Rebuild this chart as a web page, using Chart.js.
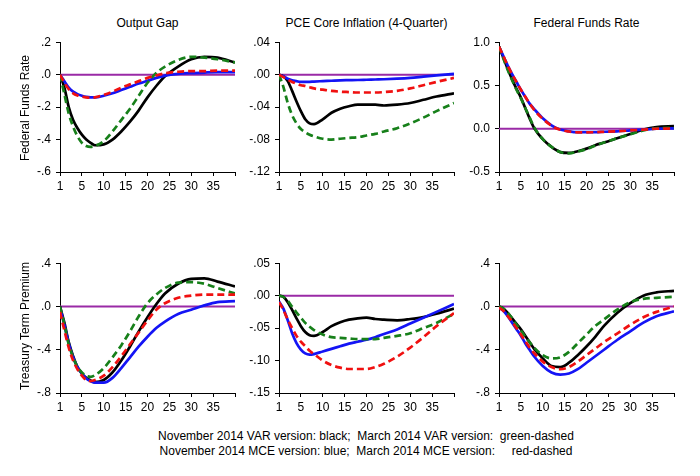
<!DOCTYPE html>
<html>
<head>
<meta charset="utf-8">
<script src="https://cdn.jsdelivr.net/npm/chart.js@4.4.1/dist/chart.umd.min.js"></script>
<style>
  html, body { margin:0; padding:0; background:#fff; }
  body { width:700px; height:476px; position:relative; overflow:hidden; font-family:"Liberation Sans", Arial, sans-serif; color:#000; }
  canvas { position:absolute; }
  .title { position:absolute; font-size:12px; text-align:center; white-space:nowrap; }
  .ylab { position:absolute; font-size:12px; white-space:nowrap; transform:translate(-50%,-50%) rotate(-90deg); }
  .legend { position:absolute; left:0; width:732px; text-align:center; font-size:12px; white-space:pre; }
</style>
</head>
<body>
<script>
// ---------- DATA ----------
const horizon = [0,1,2,3,4,5,6,7,8,10,12,14,16,18,20,22,24,27,30,33,36,40];
const xTickValues = [0,5,10,15,20,25,30,35,40];
const xTickLabels = ['1','5','10','15','20','25','30','35',''];
const zeroX = [0,40];
const zeroY = [0,0];

// Federal Funds Rate shock -> Output Gap
const ffrGapBlack = [0,-0.08,-0.2,-0.28,-0.33,-0.37,-0.40,-0.42,-0.435,-0.43,-0.40,-0.35,-0.29,-0.22,-0.14,-0.07,-0.01,0.05,0.095,0.11,0.105,0.075];
const ffrGapGreen = [0,-0.12,-0.24,-0.32,-0.38,-0.42,-0.44,-0.445,-0.44,-0.41,-0.35,-0.28,-0.21,-0.13,-0.05,0.01,0.05,0.09,0.11,0.105,0.095,0.075];
const ffrGapBlue  = [0,-0.04,-0.08,-0.105,-0.12,-0.13,-0.137,-0.14,-0.14,-0.13,-0.115,-0.095,-0.075,-0.055,-0.038,-0.02,-0.006,0.005,0.01,0.013,0.015,0.015];
const ffrGapRed   = [0,-0.05,-0.09,-0.115,-0.128,-0.135,-0.14,-0.142,-0.14,-0.125,-0.105,-0.08,-0.06,-0.04,-0.02,-0.005,0.008,0.018,0.022,0.022,0.025,0.025];

// Federal Funds Rate shock -> PCE Core Inflation
const ffrPceBlack = [0,-0.002,-0.008,-0.02,-0.033,-0.045,-0.055,-0.06,-0.061,-0.055,-0.047,-0.042,-0.039,-0.037,-0.037,-0.037,-0.038,-0.037,-0.035,-0.031,-0.027,-0.023];
const ffrPceGreen = [0,-0.015,-0.035,-0.05,-0.06,-0.067,-0.071,-0.074,-0.076,-0.079,-0.08,-0.079,-0.078,-0.077,-0.075,-0.073,-0.07,-0.066,-0.06,-0.053,-0.045,-0.035];
const ffrPceBlue  = [0,-0.002,-0.005,-0.007,-0.008,-0.009,-0.009,-0.0088,-0.0085,-0.008,-0.0075,-0.007,-0.0068,-0.0066,-0.0063,-0.006,-0.0057,-0.005,-0.004,-0.0025,-0.001,0.001];
const ffrPceRed   = [0,-0.003,-0.006,-0.009,-0.011,-0.013,-0.014,-0.0155,-0.017,-0.0185,-0.02,-0.021,-0.0215,-0.022,-0.022,-0.022,-0.0215,-0.02,-0.017,-0.013,-0.009,-0.004];

// Federal Funds Rate shock -> Federal Funds Rate
const ffrFfrBlack = [0.95,0.82,0.69,0.57,0.46,0.36,0.24,0.12,0.01,-0.12,-0.21,-0.27,-0.28,-0.26,-0.23,-0.19,-0.16,-0.11,-0.06,-0.01,0.02,0.03];
const ffrFfrGreen = [0.95,0.81,0.68,0.56,0.45,0.35,0.24,0.13,0.02,-0.12,-0.21,-0.27,-0.285,-0.265,-0.235,-0.195,-0.16,-0.11,-0.065,-0.02,0.005,0.01];
const ffrFfrBlue  = [0.95,0.84,0.73,0.63,0.54,0.45,0.37,0.29,0.23,0.12,0.04,-0.01,-0.03,-0.04,-0.04,-0.04,-0.035,-0.03,-0.02,-0.01,0,0.005];
const ffrFfrRed   = [0.95,0.84,0.73,0.63,0.54,0.45,0.37,0.29,0.22,0.115,0.035,-0.012,-0.032,-0.042,-0.042,-0.04,-0.036,-0.03,-0.02,-0.01,0,0.003];

// Treasury Term Premium shock -> Output Gap
const ttpGapBlack = [0,-0.15,-0.33,-0.46,-0.56,-0.62,-0.66,-0.685,-0.70,-0.68,-0.61,-0.5,-0.37,-0.23,-0.1,0.02,0.12,0.21,0.255,0.26,0.23,0.185];
const ttpGapGreen = [0,-0.17,-0.35,-0.47,-0.56,-0.61,-0.64,-0.65,-0.635,-0.57,-0.47,-0.36,-0.23,-0.09,0.03,0.11,0.17,0.22,0.225,0.21,0.17,0.12];
const ttpGapBlue  = [-0.01,-0.17,-0.34,-0.47,-0.56,-0.62,-0.665,-0.69,-0.705,-0.705,-0.66,-0.57,-0.47,-0.37,-0.28,-0.2,-0.14,-0.07,-0.03,0.01,0.04,0.05];
const ttpGapRed   = [-0.05,-0.22,-0.38,-0.5,-0.58,-0.64,-0.68,-0.69,-0.68,-0.64,-0.56,-0.46,-0.35,-0.24,-0.13,-0.03,0.03,0.08,0.1,0.11,0.11,0.11];

// Treasury Term Premium shock -> PCE Core Inflation
const ttpPceBlack = [0,-0.002,-0.01,-0.022,-0.035,-0.047,-0.056,-0.061,-0.062,-0.056,-0.047,-0.041,-0.037,-0.035,-0.034,-0.036,-0.037,-0.038,-0.036,-0.033,-0.028,-0.02];
const ttpPceGreen = [0,-0.002,-0.008,-0.017,-0.026,-0.034,-0.042,-0.048,-0.053,-0.06,-0.064,-0.065,-0.066,-0.067,-0.067,-0.067,-0.065,-0.062,-0.058,-0.05,-0.042,-0.028];
const ttpPceBlue  = [-0.009,-0.02,-0.038,-0.058,-0.073,-0.083,-0.089,-0.091,-0.09,-0.086,-0.082,-0.078,-0.074,-0.071,-0.068,-0.064,-0.059,-0.052,-0.043,-0.034,-0.025,-0.013];
const ttpPceRed   = [-0.01,-0.022,-0.037,-0.05,-0.062,-0.071,-0.078,-0.085,-0.09,-0.1,-0.107,-0.111,-0.113,-0.113,-0.113,-0.11,-0.105,-0.094,-0.08,-0.064,-0.047,-0.027];

// Treasury Term Premium shock -> Federal Funds Rate
const ttpFfrBlack = [0,-0.02,-0.06,-0.11,-0.16,-0.21,-0.27,-0.33,-0.39,-0.48,-0.55,-0.56,-0.52,-0.45,-0.37,-0.28,-0.18,-0.06,0.03,0.1,0.13,0.145];
const ttpFfrGreen = [0,-0.02,-0.06,-0.11,-0.17,-0.22,-0.28,-0.33,-0.38,-0.45,-0.48,-0.47,-0.42,-0.34,-0.26,-0.18,-0.12,-0.03,0.04,0.07,0.08,0.09];
const ttpFfrBlue  = [-0.01,-0.04,-0.09,-0.15,-0.21,-0.27,-0.34,-0.4,-0.46,-0.55,-0.61,-0.63,-0.62,-0.58,-0.52,-0.46,-0.4,-0.31,-0.23,-0.15,-0.09,-0.045];
const ttpFfrRed   = [-0.01,-0.04,-0.09,-0.14,-0.2,-0.26,-0.32,-0.38,-0.43,-0.51,-0.56,-0.58,-0.56,-0.51,-0.45,-0.39,-0.33,-0.25,-0.17,-0.1,-0.05,0.0];

// Y tick values and labels per panel
const gapTicksTop = [-0.6,-0.4,-0.2,0,0.2];
const gapLabelsTop = ['-.6','-.4','-.2','.0','.2'];
const pceTicksTop = [-0.12,-0.08,-0.04,0,0.04];
const pceLabelsTop = ['-.12','-.08','-.04','.00','.04'];
const ffrTicksTop = [-0.5,0,0.5,1.0];
const ffrLabelsTop = ['-0.5','0.0','0.5','1.0'];
const gapTicksBot = [-0.8,-0.4,0,0.4];
const gapLabelsBot = ['-.8','-.4','.0','.4'];
const pceTicksBot = [-0.15,-0.10,-0.05,0,0.05];
const pceLabelsBot = ['-.15','-.10','-.05','.00','.05'];
const ffrTicksBot = [-0.8,-0.4,0,0.4];
const ffrLabelsBot = ['-.8','-.4','.0','.4'];

const columnTitles = ['Output Gap','PCE Core Inflation (4-Quarter)','Federal Funds Rate'];
const rowTitles = ['Federal Funds Rate','Treasury Term Premium'];
const legendLines = [
  'November 2014 VAR version: black;  March 2014 VAR version:  green-dashed',
  'November 2014 MCE version: blue;  March 2014 MCE version:     red-dashed'
];

// ---------- LAYOUT / STYLE ----------
const colLeft = [60, 279, 499];
const rowTop = [40, 261];
const plotW = 175, plotH = 132;
const PADL = 44, PADT = 10, PADR = 10, PADB = 24;

const panels = [
  {r:0,c:0, series:[ffrGapBlack,ffrGapBlue,ffrGapGreen,ffrGapRed], ticks:gapTicksTop, labels:gapLabelsTop},
  {r:0,c:1, series:[ffrPceBlack,ffrPceBlue,ffrPceGreen,ffrPceRed], ticks:pceTicksTop, labels:pceLabelsTop},
  {r:0,c:2, series:[ffrFfrBlack,ffrFfrBlue,ffrFfrGreen,ffrFfrRed], ticks:ffrTicksTop, labels:ffrLabelsTop},
  {r:1,c:0, series:[ttpGapBlack,ttpGapBlue,ttpGapGreen,ttpGapRed], ticks:gapTicksBot, labels:gapLabelsBot},
  {r:1,c:1, series:[ttpPceBlack,ttpPceBlue,ttpPceGreen,ttpPceRed], ticks:pceTicksBot, labels:pceLabelsBot},
  {r:1,c:2, series:[ttpFfrBlack,ttpFfrBlue,ttpFfrGreen,ttpFfrRed], ticks:ffrTicksBot, labels:ffrLabelsBot}
];
// higher "order" is drawn underneath
const seriesStyle = [
  {color:'#000000', dash:[], order:4},
  {color:'#1414f5', dash:[], order:3},
  {color:'#17801a', dash:[7,4], order:2},
  {color:'#f01010', dash:[7,4], order:1}
];

Chart.defaults.font.family = '"Liberation Sans", Arial, sans-serif';
Chart.defaults.font.size = 12;
Chart.defaults.color = '#000';
Chart.defaults.animation = false;

function toPts(xs, ys) { return xs.map((x,i)=>({x:x, y:ys[i]})); }

panels.forEach(p => {
  const cv = document.createElement('canvas');
  const L = colLeft[p.c], T = rowTop[p.r];
  const cw = plotW + PADL + PADR, ch = plotH + PADT + PADB;
  cv.style.left = (L - PADL) + 'px';
  cv.style.top = (T - PADT) + 'px';
  cv.style.width = cw + 'px';
  cv.style.height = ch + 'px';
  cv.width = cw; cv.height = ch;
  document.body.appendChild(cv);

  const datasets = [{
    data: toPts(zeroX, zeroY), borderColor:'#9a2aa6', borderWidth:2, pointRadius:0, tension:0, order:5
  }];
  p.series.forEach((s, i) => {
    datasets.push({
      data: toPts(horizon, s),
      borderColor: seriesStyle[i].color,
      borderDash: seriesStyle[i].dash,
      order: seriesStyle[i].order,
      borderWidth: 2.7,
      pointRadius: 0,
      cubicInterpolationMode: 'monotone',
      fill: false
    });
  });

  new Chart(cv, {
    type: 'line',
    data: { datasets },
    options: {
      responsive: false,
      layout: { padding: {top:PADT, right:PADR, left:0, bottom:0} },
      plugins: { legend:{display:false}, tooltip:{enabled:false} },
      scales: {
        x: {
          type:'linear', min:0, max:40,
          afterBuildTicks: s => { s.ticks = xTickValues.map(v=>({value:v})); },
          afterFit: s => { s.height = PADB; },
          ticks: { autoSkip:false, maxRotation:0, padding:3, callback: (v) => xTickLabels[xTickValues.indexOf(v)] },
          grid: { drawOnChartArea:false, drawTicks:true, tickLength:4, color:'#000', lineWidth:1 },
          border: { color:'#000', width:1 }
        },
        y: {
          type:'linear', min:p.ticks[0], max:p.ticks[p.ticks.length-1],
          afterBuildTicks: s => { s.ticks = p.ticks.map(v=>({value:v})); },
          afterFit: s => { s.width = PADL; },
          ticks: { autoSkip:false, padding:5, callback: (v) => { const i = p.ticks.findIndex(t=>Math.abs(t-v)<1e-9); return i>=0 ? p.labels[i] : ''; } },
          grid: { drawOnChartArea:false, drawTicks:true, tickLength:4, color:'#000', lineWidth:1 },
          border: { color:'#000', width:1 }
        }
      }
    }
  });
});

// column titles
columnTitles.forEach((t, c) => {
  const d = document.createElement('div');
  d.className = 'title';
  d.textContent = t;
  d.style.left = colLeft[c] + 'px';
  d.style.width = plotW + 'px';
  d.style.top = '16px';
  document.body.appendChild(d);
});
// row titles
const rowCenters = [108, 326];
rowTitles.forEach((t, r) => {
  const d = document.createElement('div');
  d.className = 'ylab';
  d.textContent = t;
  d.style.left = '25px';
  d.style.top = rowCenters[r] + 'px';
  document.body.appendChild(d);
});
// legend text
legendLines.forEach((t, i) => {
  const d = document.createElement('div');
  d.className = 'legend';
  d.textContent = t;
  d.style.top = (429 + i*15) + 'px';
  document.body.appendChild(d);
});
</script>
</body>
</html>
